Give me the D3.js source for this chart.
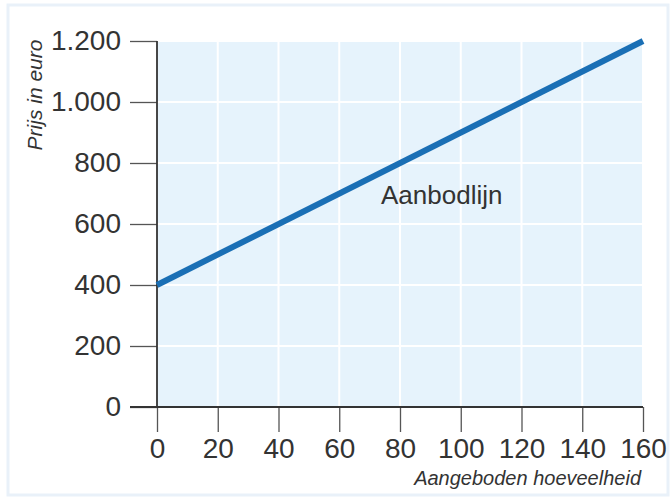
<!DOCTYPE html>
<html>
<head>
<meta charset="utf-8">
<script src="https://cdn.jsdelivr.net/npm/d3@7"></script>
<style>
  body { margin: 0; background: #fff; }
  svg { display: block; font-family: "Liberation Sans", Arial, sans-serif; }
</style>
</head>
<body>
<svg width="670" height="499"></svg>
<script>
"use strict";

const xTicks = [0, 20, 40, 60, 80, 100, 120, 140, 160];
const yTicks = [0, 200, 400, 600, 800, 1000, 1200];
const yTickLabels = ["0", "200", "400", "600", "800", "1.000", "1.200"];
const quantity = [0, 160];
const price = [400, 1200];

const plotLeft = 157, plotRight = 643, plotTop = 41, plotBottom = 407;

const svg = d3.select("svg");

// light frame around the figure
svg.append("rect")
    .attr("x", 8).attr("y", 5).attr("width", 660).attr("height", 490)
    .attr("fill", "#fff").attr("stroke", "#e9f1f9").attr("stroke-width", 3);

const xScale = d3.scaleLinear().domain([0, 160]).range([plotLeft, plotRight]);
const yScale = d3.scaleLinear().domain([0, 1200]).range([plotBottom, plotTop]);

// plot background
svg.append("rect")
    .attr("x", plotLeft).attr("y", plotTop)
    .attr("width", plotRight - plotLeft).attr("height", plotBottom - plotTop)
    .attr("fill", "#e6f3fc");

// white grid
svg.append("g").selectAll("line").data(xTicks.slice(1))
    .join("line")
    .attr("x1", d => xScale(d)).attr("x2", d => xScale(d))
    .attr("y1", plotTop).attr("y2", plotBottom)
    .attr("stroke", "#fff").attr("stroke-width", 2);
svg.append("g").selectAll("line").data(yTicks.slice(1))
    .join("line")
    .attr("x1", plotLeft).attr("x2", plotRight)
    .attr("y1", d => yScale(d)).attr("y2", d => yScale(d))
    .attr("stroke", "#fff").attr("stroke-width", 2);

// y axis
const yAxis = d3.axisLeft(yScale)
    .tickValues(yTicks)
    .tickFormat((d, i) => yTickLabels[i])
    .tickSize(27).tickPadding(9);
const gy = svg.append("g").attr("transform", `translate(${plotLeft},0)`).call(yAxis);
gy.select(".domain").remove();
gy.selectAll(".tick line").attr("stroke", "#555").attr("stroke-width", 1.3);
gy.selectAll(".tick text").attr("font-size", 28).attr("fill", "#333");

// x axis
const xAxis = d3.axisBottom(xScale)
    .tickValues(xTicks)
    .tickSize(25).tickPadding(6);
const gx = svg.append("g").attr("transform", `translate(0,${plotBottom})`).call(xAxis);
gx.select(".domain").remove();
gx.selectAll(".tick line").attr("stroke", "#555").attr("stroke-width", 1.3);
gx.selectAll(".tick text").attr("font-size", 28).attr("fill", "#333");

// axis lines
svg.append("line")
    .attr("x1", plotLeft).attr("x2", plotLeft).attr("y1", plotTop).attr("y2", plotBottom)
    .attr("stroke", "#333").attr("stroke-width", 1.8);
svg.append("line")
    .attr("x1", plotLeft - 27).attr("x2", plotRight).attr("y1", plotBottom).attr("y2", plotBottom)
    .attr("stroke", "#333").attr("stroke-width", 1.8);

// supply line
const pts = quantity.map((q, i) => [q, price[i]]);
svg.append("path")
    .datum(pts)
    .attr("d", d3.line().x(d => xScale(d[0])).y(d => yScale(d[1])))
    .attr("fill", "none").attr("stroke", "#1a6fb5").attr("stroke-width", 6);

svg.append("text")
    .attr("x", 381).attr("y", 204)
    .attr("font-size", 26).attr("fill", "#333")
    .text("Aanbodlijn");

// axis titles
svg.append("text")
    .attr("transform", "translate(42,95) rotate(-90)")
    .attr("text-anchor", "middle")
    .attr("font-size", 21).attr("font-style", "italic").attr("fill", "#333")
    .text("Prijs in euro");
svg.append("text")
    .attr("x", plotRight - 2).attr("y", 485)
    .attr("text-anchor", "end")
    .attr("font-size", 20).attr("font-style", "italic").attr("fill", "#333")
    .text("Aangeboden hoeveelheid");
</script>
</body>
</html>
